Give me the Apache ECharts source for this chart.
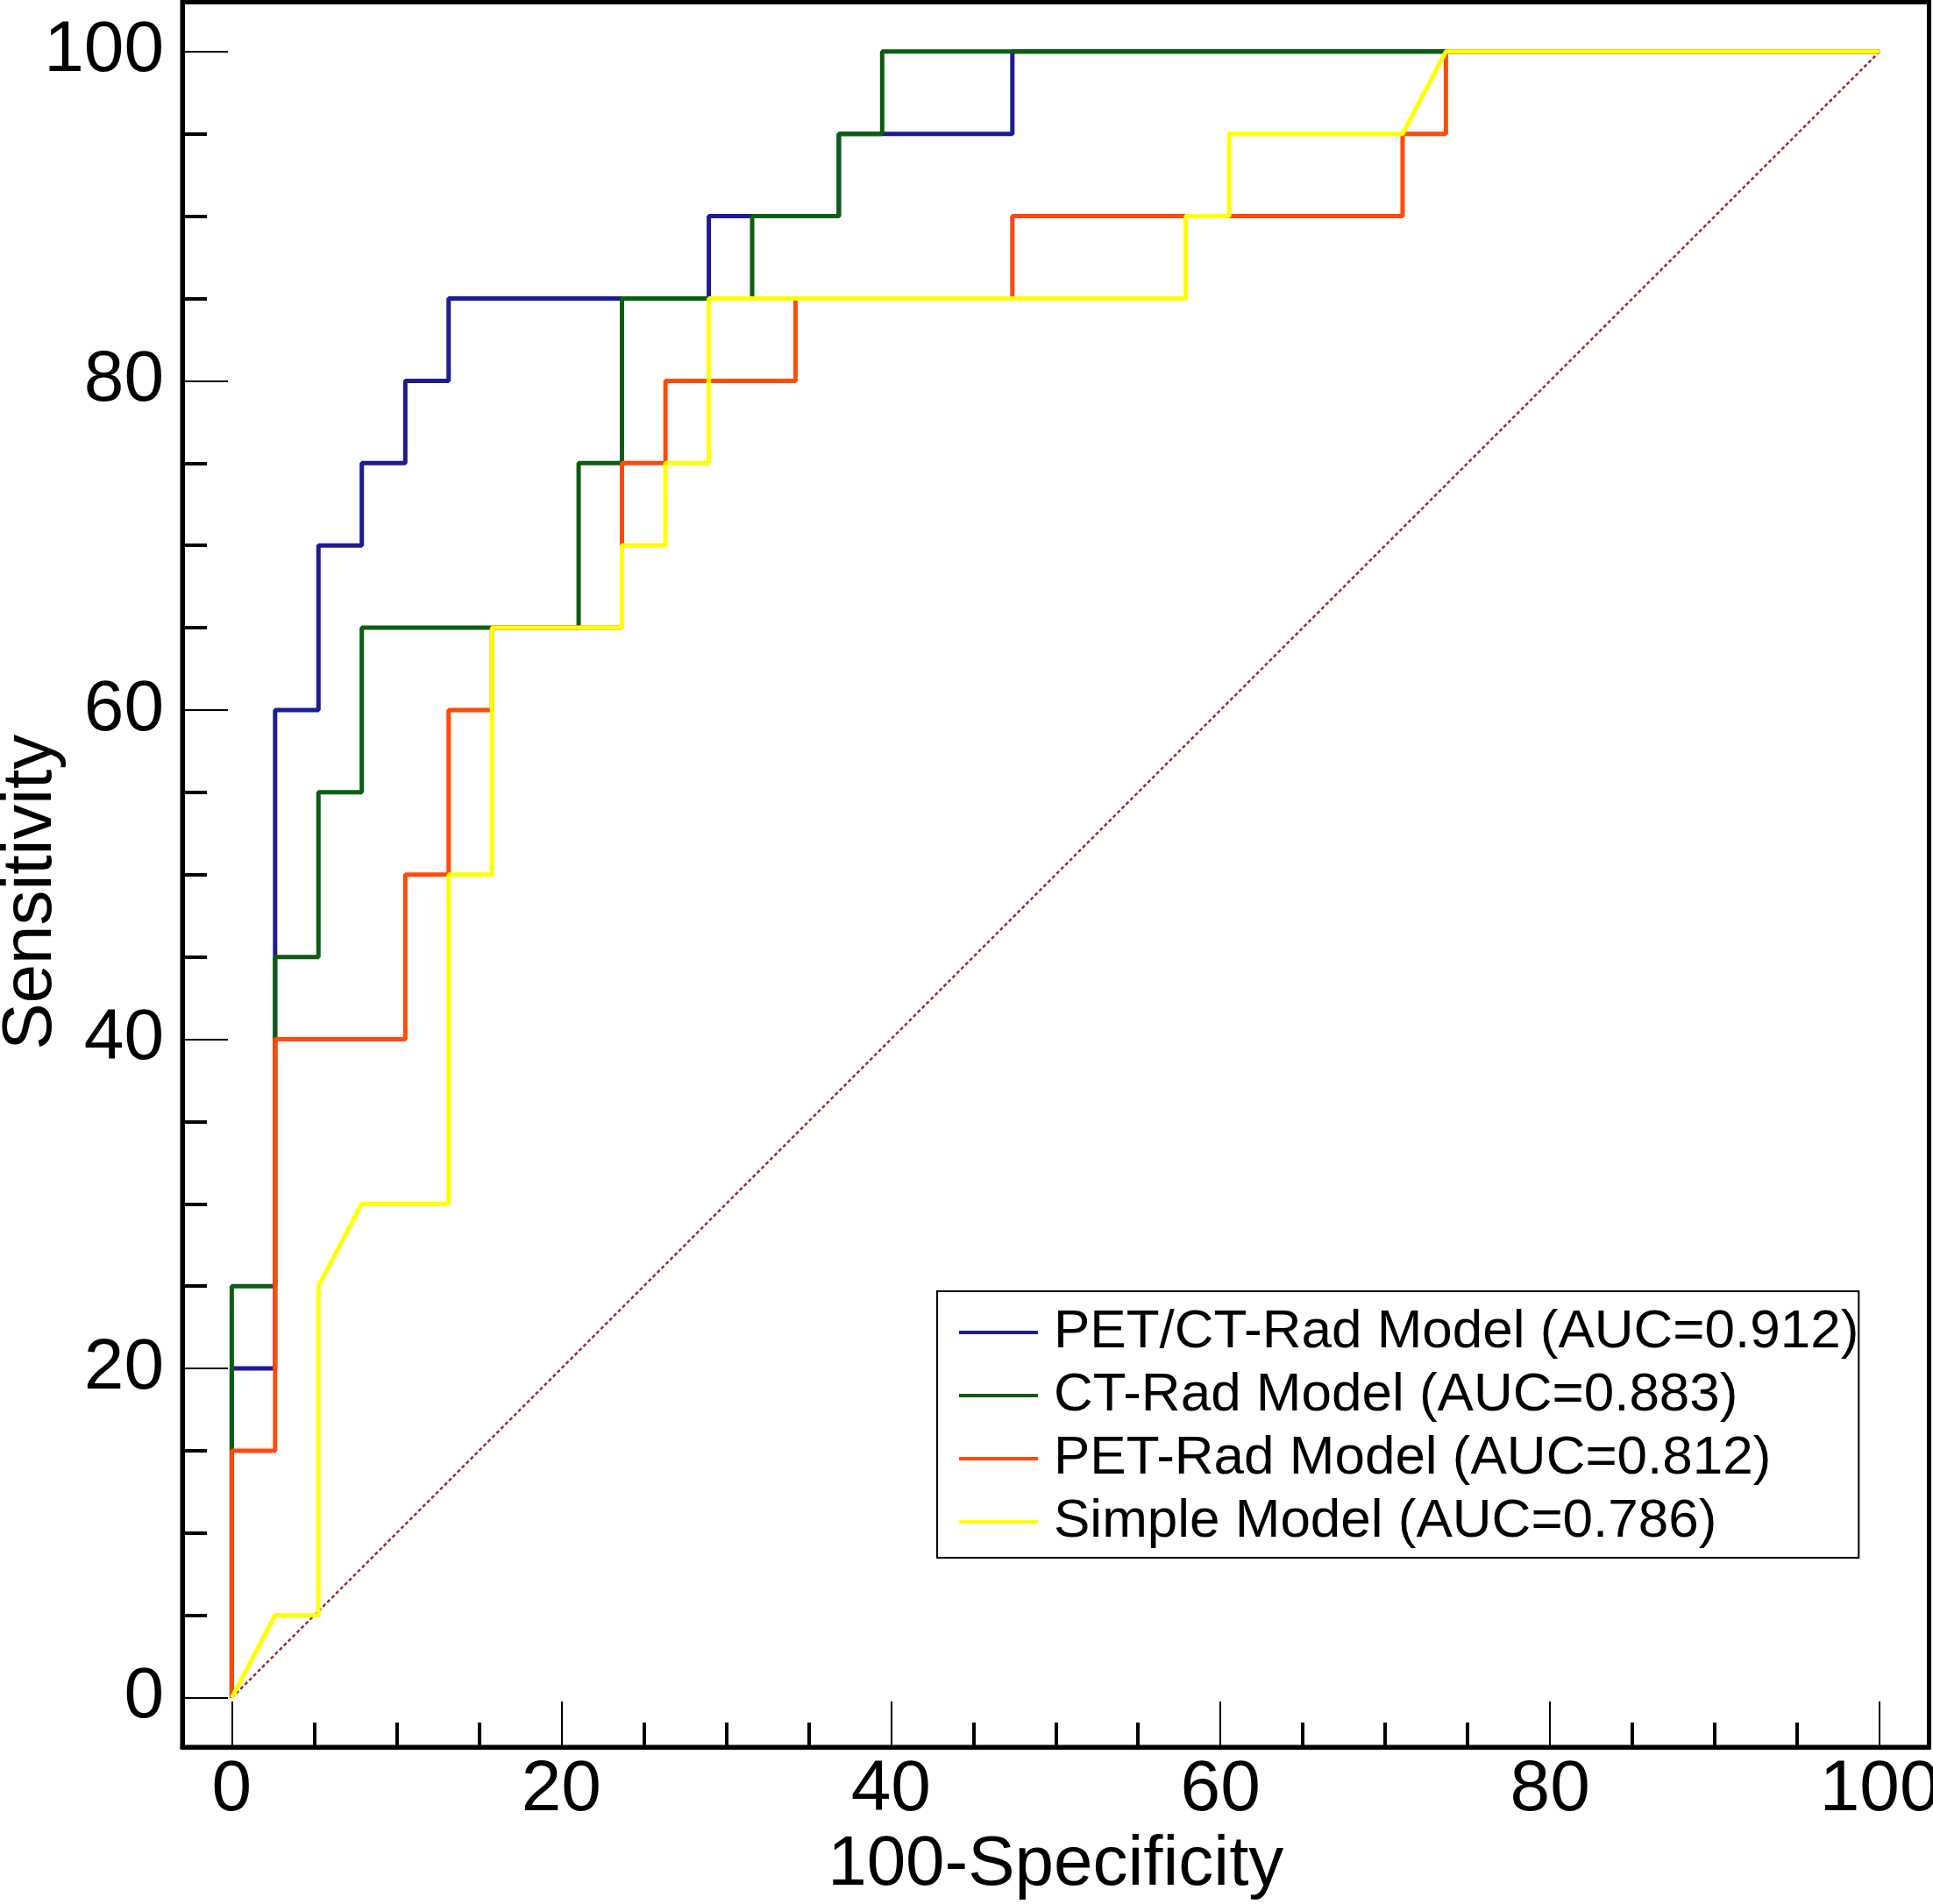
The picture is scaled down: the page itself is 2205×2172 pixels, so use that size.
<!DOCTYPE html>
<head>
    <meta charset="utf-8">
    <title>ROC</title>
    <style>
    html,body { height:100%; width:100%; margin:0; background:white; padding:0; }
    #main { width:2205px; height:2172px; }
    </style>
</head>
<body>
    <div id="main"></div>
    <script src="https://cdn.jsdelivr.net/npm/echarts@6/dist/echarts.min.js"></script>
    <script type="text/javascript">
    // ROC curve points [100-specificity, sensitivity]
    var petCtRad = [[0,0],[0,20],[2.63,20],[2.63,60],[5.26,60],[5.26,70],[7.89,70],[7.89,75],[10.53,75],[10.53,80],
        [13.16,80],[13.16,85],[28.95,85],[28.95,90],[36.84,90],[36.84,95],[47.37,95],[47.37,100],[100,100]];
    var ctRad = [[0,0],[0,25],[2.63,25],[2.63,45],[5.26,45],[5.26,55],[7.89,55],[7.89,65],[21.05,65],[21.05,75],
        [23.68,75],[23.68,85],[31.58,85],[31.58,90],[36.84,90],[36.84,95],[39.47,95],[39.47,100],[100,100]];
    var petRad = [[0,0],[0,15],[2.63,15],[2.63,40],[10.53,40],[10.53,50],[13.16,50],[13.16,60],[15.79,60],[15.79,65],
        [23.68,65],[23.68,75],[26.32,75],[26.32,80],[34.21,80],[34.21,85],[47.37,85],[47.37,90],[71.05,90],[71.05,95],
        [73.68,95],[73.68,100],[100,100]];
    var simple = [[0,0],[2.63,5],[5.26,5],[5.26,25],[7.89,30],[13.16,30],[13.16,50],[15.79,50],[15.79,65],[23.68,65],
        [23.68,70],[26.32,70],[26.32,75],[28.95,75],[28.95,85],[57.89,85],[57.89,90],[60.53,90],[60.53,95],[71.05,95],
        [73.68,100],[100,100]];
    var diagonal = [[0,0],[100,100]];

    var names = ['PET/CT-Rad Model (AUC=0.912)', 'CT-Rad Model (AUC=0.883)', 'PET-Rad Model (AUC=0.812)', 'Simple Model (AUC=0.786)'];
    var colors = ['#1c1c94', '#0b5e12', '#ff4a0a', '#ffff00'];

    var majorTicks = [0, 20, 40, 60, 80, 100];
    var minorTicks = [5, 10, 15, 25, 30, 35, 45, 50, 55, 65, 70, 75, 85, 90, 95];

    var font = "'Liberation Sans', Arial, sans-serif";

    function mainAxis(isX) {
        return {
            type: 'value', min: -3, max: 103,
            position: isX ? 'bottom' : 'left',
            name: isX ? '100-Specificity' : 'Sensitivity',
            nameLocation: 'middle',
            nameGap: isX ? 88 : 132,
            nameMoveOverlap: isX,
            nameTextStyle: { fontSize: 80, color: '#000', fontFamily: font, padding: isX ? 0 : [0, 40, 0, 0] },
            axisLine: { show: true, onZero: false, lineStyle: { color: '#000', width: 5 } },
            axisTick: { show: true, inside: true, length: 52, customValues: majorTicks, lineStyle: { color: '#000', width: 2 } },
            axisLabel: { show: true, customValues: majorTicks, margin: isX ? 8 : 21, fontSize: 82, color: '#000', fontFamily: font },
            splitLine: { show: false }
        };
    }
    // second axis on the same side, only for the short minor ticks
    function minorAxis(isX) {
        return {
            type: 'value', min: -3, max: 103,
            position: isX ? 'bottom' : 'left',
            axisLine: { show: false, onZero: false },
            axisTick: { show: true, inside: true, length: 28, customValues: minorTicks, lineStyle: { color: '#000', width: 4 } },
            axisLabel: { show: false },
            splitLine: { show: false }
        };
    }

    var curves = [petCtRad, ctRad, petRad, simple];
    var series = [{
        type: 'line', data: diagonal, symbol: 'none', silent: true,
        lineStyle: { color: '#9e2a2a', width: 2.5, type: [4, 3] }
    }];
    for (var i = 0; i < curves.length; i++) {
        series.push({
            name: names[i], type: 'line', data: curves[i], symbol: 'none',
            color: colors[i],
            lineStyle: { color: colors[i], width: 5 },
            emphasis: { disabled: true }
        });
    }

    var myChart = echarts.init(document.getElementById('main'));
    myChart.setOption({
        animation: false,
        backgroundColor: '#fff',
        grid: { left: 208, right: 4.5, top: 2.5, bottom: 179, containLabel: false, outerBoundsMode: 'none',
            show: true, borderColor: '#000', borderWidth: 5 },
        xAxis: [mainAxis(true), minorAxis(true)],
        yAxis: [mainAxis(false), minorAxis(false)],
        legend: {
            data: names, orient: 'vertical', left: 1069, top: 1473,
            icon: 'rect', itemWidth: 90, itemHeight: 4, itemGap: 10,
            padding: [16, 0, 10, 25],
            borderColor: '#000', borderWidth: 2, backgroundColor: '#fff',
            selectedMode: false,
            textStyle: { fontSize: 62, color: '#000', fontFamily: font, padding: [0, 0, 0, 13] }
        },
        series: series
    });
    </script>
</body>
